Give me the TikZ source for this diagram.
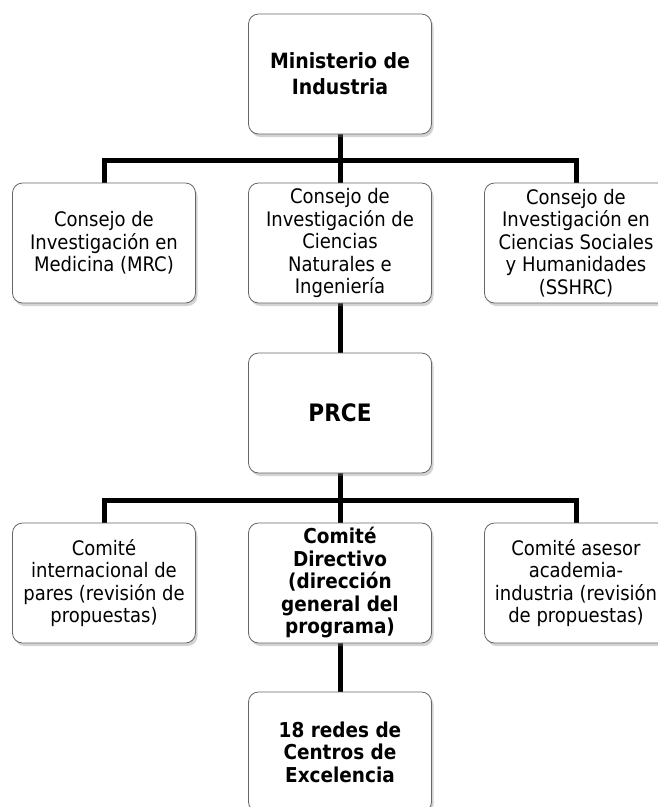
\documentclass[tikz,border=0pt]{standalone}
\usepackage{fontspec}
\setmainfont{DejaVu Sans Condensed}
\usetikzlibrary{shadows,backgrounds}
\tikzset{
  orgbox/.style={draw=black!60, line width=0.8pt, fill=white, rounded corners=10pt,
    minimum width=183pt, minimum height=120pt, inner sep=0pt, align=center,
    font=\fontsize{20}{22.5}\selectfont,
    drop shadow={shadow xshift=2pt, shadow yshift=-3pt, opacity=0.35}},
  boldbox/.style={orgbox, font=\fontsize{20.5}{22.5}\selectfont\bfseries},
  bus/.style={line width=5pt, draw=black}
}
\begin{document}
\begin{tikzpicture}[x=1pt,y=-1pt]
\useasboundingbox (0,0) rectangle (658,807);
\clip (0,0) rectangle (658,807);
\node[orgbox, font=\fontsize{21}{26}\selectfont\bfseries] (min) at (340,74) {Ministerio de\\Industria};
\node[orgbox] (mrc) at (104,243) {Consejo de\\Investigación en\\Medicina (MRC)};
\node[orgbox] (nserc) at (340,243) {Consejo de\\Investigación de\\Ciencias\\Naturales e\\Ingeniería};
\node[orgbox] (sshrc) at (576,243) {Consejo de\\Investigación en\\Ciencias Sociales\\y Humanidades\\(SSHRC)};
\node[orgbox, font=\fontsize{24}{28}\selectfont\bfseries] (prce) at (340,413) {PRCE};
\node[orgbox] (cip) at (104,583) {Comité\\internacional de\\pares (revisión de\\propuestas)};
\node[boldbox] (cd) at (340,583) {Comité\\Directivo\\(dirección\\general del\\programa)};
\node[orgbox] (caai) at (576,583) {Comité asesor\\academia-\\industria (revisión\\de propuestas)};
\node[boldbox] (redes) at (340,752) {18 redes de\\Centros de\\Excelencia};
\coordinate (b1) at (340,160);
\coordinate (b2) at (340,500);
\begin{scope}[on background layer]
\draw[bus] (min.south) -- (nserc.north);
\draw[bus] (mrc.north) |- (b1) -| (sshrc.north);
\draw[bus] (nserc.south) -- (prce.north);
\draw[bus] (prce.south) -- (cd.north);
\draw[bus] (cip.north) |- (b2) -| (caai.north);
\draw[bus] (cd.south) -- (redes.north);
\end{scope}
\end{tikzpicture}
\end{document}
